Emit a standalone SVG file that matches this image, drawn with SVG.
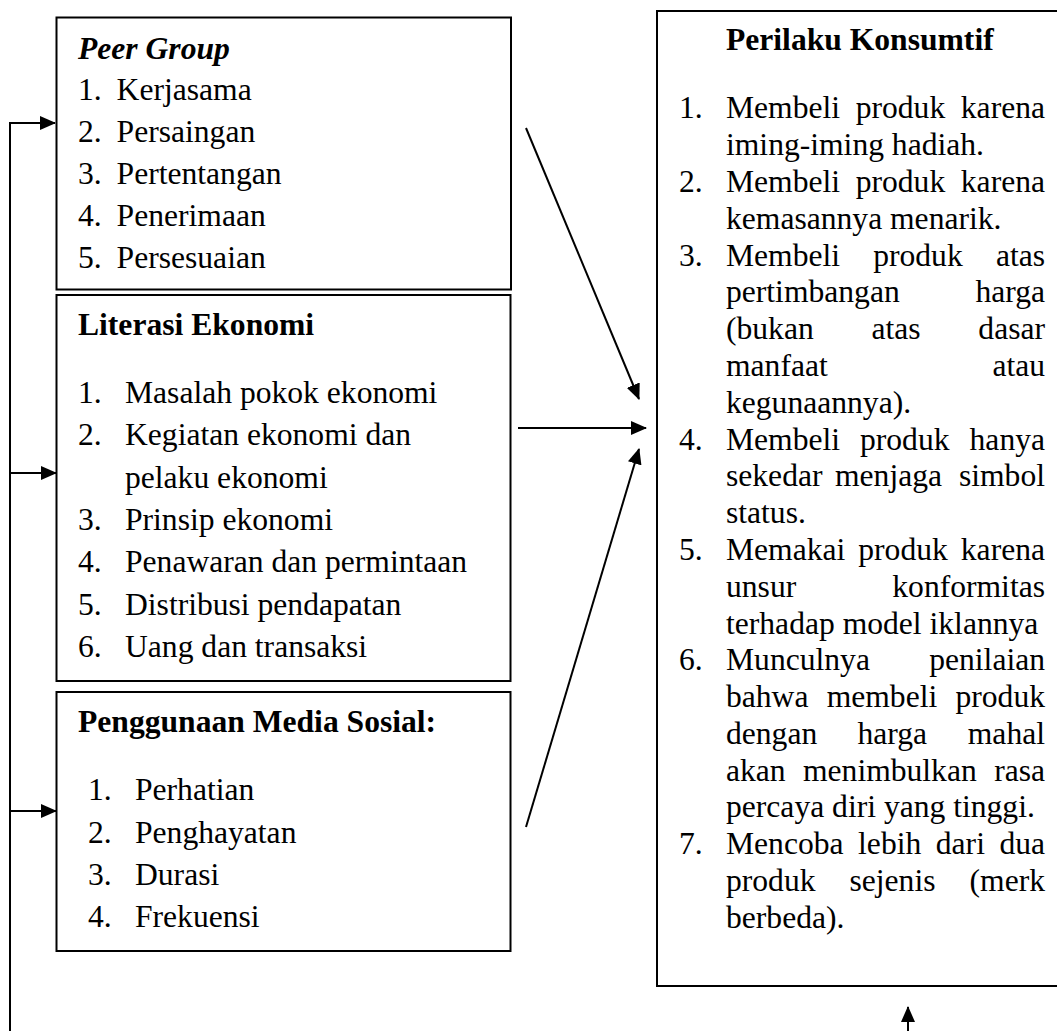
<svg xmlns="http://www.w3.org/2000/svg" width="1057" height="1031" viewBox="0 0 1057 1031">
<style>
.t{font-family:"Liberation Serif","Times New Roman",serif;font-size:31.6px;fill:#000}
.b{font-weight:bold}
.bi{font-weight:bold;font-style:italic}
.e{text-anchor:end}
.box{fill:#fff;stroke:#000;stroke-width:2}
.c{stroke:#000;stroke-width:2;fill:none;marker-end:url(#ah)}
</style>
<defs>
<marker id="ah" markerWidth="16" markerHeight="14" refX="15" refY="7" orient="auto" markerUnits="userSpaceOnUse">
<path d="M0,0 L16,7 L0,14 z" fill="#000"/>
</marker>
</defs>
<rect width="1057" height="1031" fill="#fff"/>

<g id="peer-group">
<rect class="box" x="56.5" y="17.5" width="454.5" height="272"/>
<text class="t bi" x="78" y="59">Peer Group</text>
<text class="t" x="78" y="100">1.</text><text class="t" x="116.6" y="100">Kerjasama</text>
<text class="t" x="78" y="142">2.</text><text class="t" x="116.6" y="142">Persaingan</text>
<text class="t" x="78" y="184">3.</text><text class="t" x="116.6" y="184">Pertentangan</text>
<text class="t" x="78" y="226">4.</text><text class="t" x="116.6" y="226">Penerimaan</text>
<text class="t" x="78" y="268">5.</text><text class="t" x="116.6" y="268">Persesuaian</text>
</g>

<g id="literasi-ekonomi">
<rect class="box" x="56.5" y="295" width="454" height="386"/>
<text class="t b" x="78" y="335">Literasi Ekonomi</text>
<text class="t" x="78" y="403">1.</text><text class="t" x="125" y="403">Masalah pokok ekonomi</text>
<text class="t" x="78" y="445">2.</text><text class="t" x="125" y="445">Kegiatan ekonomi dan</text>
<text class="t" x="125" y="488">pelaku ekonomi</text>
<text class="t" x="78" y="530">3.</text><text class="t" x="125" y="530">Prinsip ekonomi</text>
<text class="t" x="78" y="572">4.</text><text class="t" x="125" y="572">Penawaran dan permintaan</text>
<text class="t" x="78" y="615">5.</text><text class="t" x="125" y="615">Distribusi pendapatan</text>
<text class="t" x="78" y="657">6.</text><text class="t" x="125" y="657">Uang dan transaksi</text>
</g>

<g id="penggunaan-media-sosial">
<rect class="box" x="56.5" y="692" width="454" height="259"/>
<text class="t b" x="78" y="732">Penggunaan Media Sosial:</text>
<text class="t" x="88" y="800">1.</text><text class="t" x="135" y="800">Perhatian</text>
<text class="t" x="88" y="843">2.</text><text class="t" x="135" y="843">Penghayatan</text>
<text class="t" x="88" y="885">3.</text><text class="t" x="135" y="885">Durasi</text>
<text class="t" x="88" y="927">4.</text><text class="t" x="135" y="927">Frekuensi</text>
</g>

<g id="perilaku-konsumtif">
<rect class="box" x="657" y="11" width="420" height="975"/>
<text class="t b" x="726" y="50">Perilaku Konsumtif</text>
<text class="t" x="679" y="118">1.</text>
<text class="t" y="118"><tspan x="726">Membeli</tspan><tspan x="855.7">produk</tspan></text><text class="t e" x="1045" y="118">karena</text>
<text class="t" x="726" y="155">iming-iming hadiah.</text>
<text class="t" x="679" y="192">2.</text>
<text class="t" y="192"><tspan x="726">Membeli</tspan><tspan x="855.7">produk</tspan></text><text class="t e" x="1045" y="192">karena</text>
<text class="t" x="726" y="229">kemasannya menarik.</text>
<text class="t" x="679" y="266">3.</text>
<text class="t" y="266"><tspan x="726">Membeli</tspan><tspan x="873.2">produk</tspan></text><text class="t e" x="1045" y="266">atas</text>
<text class="t" x="726" y="302">pertimbangan</text><text class="t e" x="1045" y="302">harga</text>
<text class="t" y="339"><tspan x="726">(bukan</tspan><tspan x="871.5">atas</tspan></text><text class="t e" x="1045" y="339">dasar</text>
<text class="t" x="726" y="376">manfaat</text><text class="t e" x="1045" y="376">atau</text>
<text class="t" x="726" y="413">kegunaannya).</text>
<text class="t" x="679" y="450">4.</text>
<text class="t" y="450"><tspan x="726">Membeli</tspan><tspan x="860">produk</tspan></text><text class="t e" x="1045" y="450">hanya</text>
<text class="t" y="486"><tspan x="726">sekedar</tspan><tspan x="835">menjaga</tspan></text><text class="t e" x="1045" y="486">simbol</text>
<text class="t" x="726" y="523">status.</text>
<text class="t" x="679" y="560">5.</text>
<text class="t" y="560"><tspan x="726">Memakai</tspan><tspan x="858.3">produk</tspan></text><text class="t e" x="1045" y="560">karena</text>
<text class="t" x="726" y="597">unsur</text><text class="t e" x="1045" y="597">konformitas</text>
<text class="t" x="726" y="634">terhadap model iklannya</text>
<text class="t" x="679" y="670">6.</text>
<text class="t" x="726" y="670">Munculnya</text><text class="t e" x="1045" y="670">penilaian</text>
<text class="t" y="707"><tspan x="726">bahwa</tspan><tspan x="826.7">membeli</tspan></text><text class="t e" x="1045" y="707">produk</text>
<text class="t" y="744"><tspan x="726">dengan</tspan><tspan x="857.5">harga</tspan></text><text class="t e" x="1045" y="744">mahal</text>
<text class="t" y="781"><tspan x="726">akan</tspan><tspan x="803">menimbulkan</tspan></text><text class="t e" x="1045" y="781">rasa</text>
<text class="t" x="726" y="817">percaya diri yang tinggi.</text>
<text class="t" x="679" y="854">7.</text>
<text class="t" y="854"><tspan x="726">Mencoba</tspan><tspan x="858.1">lebih</tspan><tspan x="935.8">dari</tspan></text><text class="t e" x="1045" y="854">dua</text>
<text class="t" y="891"><tspan x="726">produk</tspan><tspan x="849.5">sejenis</tspan></text><text class="t e" x="1045" y="891">(merk</text>
<text class="t" x="726" y="928">berbeda).</text>
</g>

<g id="connectors">
<path class="c" d="M10,1031 V123 H55"/>
<path class="c" d="M10,473 H56"/>
<path class="c" d="M10,811 H56"/>
<path class="c" d="M526,128 L639,399"/>
<path class="c" d="M518,428 H646"/>
<path class="c" d="M526,827 L639,449"/>
<path class="c" d="M908,1031 V1007"/>
</g>
</svg>
